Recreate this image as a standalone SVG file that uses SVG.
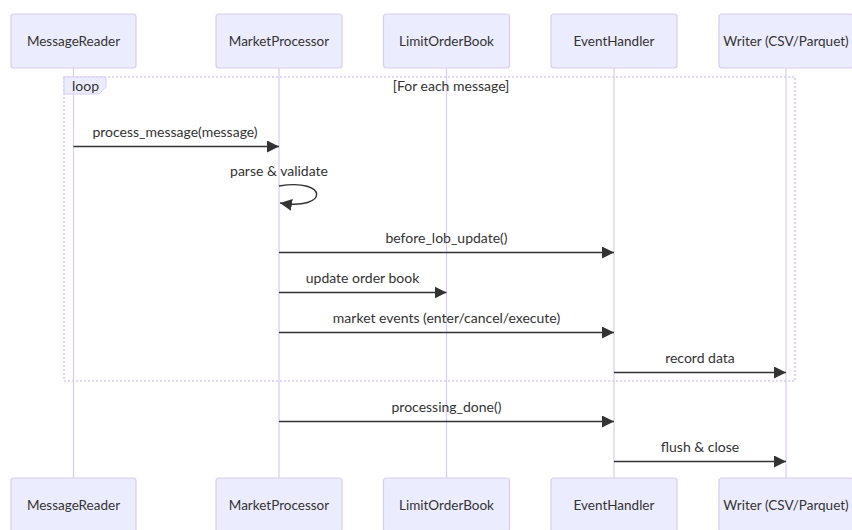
<svg xmlns="http://www.w3.org/2000/svg" width="852" height="530" viewBox="0 0 852 530">
<style>
text{font-family:Lato,"Liberation Sans",sans-serif;font-size:14px;fill:#333}
.actor rect{fill:#ECECFF;stroke:#D9CCF2;stroke-width:1.2}
.actor text{text-anchor:middle;dominant-baseline:central;font-size:13.5px}
.life{stroke:#D9CCF2;stroke-width:1.2}
.msg{stroke:#333;stroke-width:1.4;fill:none;marker-end:url(#ah)}
.lbl{text-anchor:middle}
.loopline{stroke:#D9CCF2;stroke-width:1.7;stroke-dasharray:2,2;fill:none}
</style>
<defs>
<marker id="ah" markerUnits="userSpaceOnUse" markerWidth="12" markerHeight="12" viewBox="0 0 10 10" refX="10" refY="5" orient="auto">
<path d="M0,0 L10,5 L0,10 z" fill="#333"/>
</marker>
</defs>
<g id="lifelines">
<line class="life" x1="73.5" y1="68" x2="73.5" y2="478"/>
<line class="life" x1="279" y1="68" x2="279" y2="478"/>
<line class="life" x1="446.5" y1="68" x2="446.5" y2="478"/>
<line class="life" x1="614" y1="68" x2="614" y2="478"/>
<line class="life" x1="786" y1="68" x2="786" y2="478"/>
</g>
<g id="loop">
<rect class="loopline" x="64" y="77" width="731" height="304"/>
<polygon points="64,77 106,77 106,87 99,94 64,94" fill="#ECECFF" stroke="#D9CCF2" stroke-width="1"/>
<text x="72" y="91">loop</text>
<text class="lbl" x="451" y="91">[For each message]</text>
</g>
<g id="actor-MessageReader" class="actor">
<rect x="11" y="14" width="125" height="54" rx="3"/><text x="73.5" y="41">MessageReader</text>
<rect x="11" y="478" width="125" height="54" rx="3"/><text x="73.5" y="505">MessageReader</text>
</g>
<g id="actor-MarketProcessor" class="actor">
<rect x="216" y="14" width="126" height="54" rx="3"/><text x="279" y="41">MarketProcessor</text>
<rect x="216" y="478" width="126" height="54" rx="3"/><text x="279" y="505">MarketProcessor</text>
</g>
<g id="actor-LimitOrderBook" class="actor">
<rect x="383.5" y="14" width="126" height="54" rx="3"/><text x="446.5" y="41">LimitOrderBook</text>
<rect x="383.5" y="478" width="126" height="54" rx="3"/><text x="446.5" y="505">LimitOrderBook</text>
</g>
<g id="actor-EventHandler" class="actor">
<rect x="551" y="14" width="126" height="54" rx="3"/><text x="614" y="41">EventHandler</text>
<rect x="551" y="478" width="126" height="54" rx="3"/><text x="614" y="505">EventHandler</text>
</g>
<g id="actor-Writer" class="actor">
<rect x="719" y="14" width="134" height="54" rx="3"/><text x="786" y="41">Writer (CSV/Parquet)</text>
<rect x="719" y="478" width="134" height="54" rx="3"/><text x="786" y="505">Writer (CSV/Parquet)</text>
</g>
<g id="connectors">
<line class="msg" x1="73.5" y1="146.5" x2="279" y2="146.5"/>
<text class="lbl" x="175" y="137">process_message(message)</text>
<path class="msg" d="M279,186 C329,177.6 329,211 280,203"/>
<text class="lbl" x="279" y="176">parse &amp; validate</text>
<line class="msg" x1="279" y1="252.5" x2="614" y2="252.5"/>
<text class="lbl" x="446.5" y="243">before_lob_update()</text>
<line class="msg" x1="279" y1="292.5" x2="446.5" y2="292.5"/>
<text class="lbl" x="362.5" y="283">update order book</text>
<line class="msg" x1="279" y1="332.5" x2="614" y2="332.5"/>
<text class="lbl" x="446.5" y="323">market events (enter/cancel/execute)</text>
<line class="msg" x1="614" y1="372.5" x2="786" y2="372.5"/>
<text class="lbl" x="700" y="363">record data</text>
<line class="msg" x1="279" y1="421.5" x2="614" y2="421.5"/>
<text class="lbl" x="446.5" y="412">processing_done()</text>
<line class="msg" x1="614" y1="461.5" x2="786" y2="461.5"/>
<text class="lbl" x="700" y="452">flush &amp; close</text>
</g>
</svg>
